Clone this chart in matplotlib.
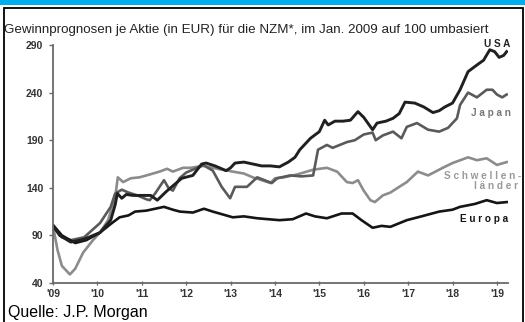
import matplotlib
matplotlib.use("Agg")
import matplotlib.pyplot as plt
from matplotlib.patches import Rectangle

plt.rcParams['font.family'] = ['Liberation Sans', 'DejaVu Sans']

# Earnings forecasts per share (EUR), rebased to 100 in Jan 2009
usa_t = [2009.0, 2009.15, 2009.4, 2009.7, 2010.06, 2010.3, 2010.4, 2010.45, 2010.55, 2010.65,
         2010.8, 2011.0, 2011.2, 2011.35, 2011.55, 2011.7, 2011.8, 2011.9, 2012.15, 2012.35,
         2012.45, 2012.65, 2012.9, 2013.0, 2013.1, 2013.3, 2013.5, 2013.7, 2013.9, 2014.1,
         2014.3, 2014.45, 2014.56, 2014.8, 2015.0, 2015.12, 2015.2, 2015.35, 2015.53, 2015.7,
         2015.87, 2016.0, 2016.2, 2016.3, 2016.5, 2016.66, 2016.8, 2016.93, 2017.15, 2017.35,
         2017.56, 2017.7, 2017.83, 2018.0, 2018.17, 2018.35, 2018.55, 2018.7, 2018.84, 2018.95,
         2019.05, 2019.15, 2019.22]
usa_v = [100, 90, 83, 86, 93, 106, 122, 134, 129, 133,
         132, 132, 132, 127, 136, 142, 146, 150, 153, 165,
         166, 163, 158, 161, 166, 167, 165, 163, 163, 162,
         167, 172, 180, 192, 199, 211, 206, 210, 210, 211,
         220, 214, 201, 208, 210, 213, 218, 230, 229, 225,
         219, 221, 225, 229, 243, 262, 269, 274, 285, 283,
         277, 279, 283]

japan_t = [2009.0, 2009.2, 2009.4, 2009.7, 2010.06, 2010.3, 2010.4, 2010.55, 2010.7, 2010.9,
           2011.1, 2011.18, 2011.3, 2011.5, 2011.6, 2011.7, 2011.85, 2012.0, 2012.2, 2012.38,
           2012.6, 2012.8, 2012.99, 2013.1, 2013.37, 2013.6, 2013.93, 2014.05, 2014.34, 2014.6,
           2014.86, 2014.97, 2015.17, 2015.3, 2015.62, 2015.8, 2016.0, 2016.2, 2016.27, 2016.43,
           2016.66, 2016.85, 2016.97, 2017.2, 2017.45, 2017.7, 2017.9, 2018.1, 2018.17, 2018.35,
           2018.55, 2018.77, 2018.9, 2019.0, 2019.12, 2019.22]
japan_v = [100, 88, 85, 88, 103, 120, 134, 138, 135, 132,
           128, 127, 134, 148, 140, 137, 150, 156, 160, 164,
           158, 141, 129, 141, 141, 151, 145, 150, 153, 152,
           153, 180, 185, 182, 188, 190, 196, 198, 190, 195,
           199, 192, 204, 208, 201, 199, 203, 213, 227, 240,
           235, 243, 243, 238, 235, 238]

em_t = [2009.0, 2009.1, 2009.2, 2009.38, 2009.5, 2009.68, 2009.9, 2010.06, 2010.24, 2010.4,
        2010.46, 2010.58, 2010.75, 2010.95, 2011.18, 2011.4, 2011.57, 2011.7, 2011.93, 2012.1,
        2012.24, 2012.4, 2012.7, 2013.05, 2013.3, 2013.5, 2013.9, 2014.0, 2014.2, 2014.5,
        2014.86, 2015.17, 2015.4, 2015.62, 2015.75, 2015.87, 2016.0, 2016.15, 2016.25, 2016.43,
        2016.6, 2016.8, 2016.97, 2017.22, 2017.45, 2017.78, 2018.0, 2018.35, 2018.55, 2018.77,
        2019.0, 2019.22]
em_v = [100, 75, 58, 49, 55, 72, 85, 93, 106, 130,
        151, 146, 150, 151, 154, 157, 160, 157, 161, 161,
        162, 163, 160, 157, 155, 151, 145, 150, 151, 154,
        159, 161, 157, 146, 145, 148, 137, 127, 125, 132,
        135, 141, 146, 157, 153, 161, 166, 172, 169, 171,
        164, 167]

eu_t = [2009.0, 2009.2, 2009.5, 2009.75, 2010.06, 2010.3, 2010.5, 2010.7, 2010.85, 2011.1,
        2011.3, 2011.5, 2011.7, 2011.86, 2012.15, 2012.4, 2012.6, 2013.05, 2013.3, 2013.6,
        2014.1, 2014.4, 2014.7, 2014.9, 2015.17, 2015.5, 2015.75, 2015.95, 2016.2, 2016.4,
        2016.6, 2016.97, 2017.3, 2017.7, 2018.0, 2018.17, 2018.5, 2018.77, 2019.0, 2019.22]
eu_v = [101, 90, 82, 85, 93, 102, 109, 111, 115, 116,
        118, 120, 117, 115, 114, 118, 115, 109, 110, 108,
        106, 107, 113, 110, 108, 113, 113, 106, 98, 100,
        99, 106, 110, 115, 117, 120, 123, 127, 124, 125]

y_ticks = [40, 90, 140, 190, 240, 290]
x_ticks = list(range(2009, 2020))
x_labels = ["'%02d" % (y % 100) for y in x_ticks]

fig = plt.figure(figsize=(5.25, 3.22), dpi=100)

# Blue header strip and black frame
fig.add_artist(Rectangle((0, 1 - 5 / 322), 1, 5 / 322, transform=fig.transFigure,
                         facecolor='#00aeef', edgecolor='none'))
fig.add_artist(Rectangle((3.5 / 525, -0.05), 519 / 525, 1.05 - 7.5 / 322,
                         transform=fig.transFigure, facecolor='none',
                         edgecolor='black', linewidth=1.3))

ax = fig.add_axes([53 / 525, 1 - 283 / 322, 455 / 525, 238 / 322])
ax.plot(em_t, em_v, color='#8c8c8c', lw=1.9, solid_joinstyle='round')
ax.plot(japan_t, japan_v, color='#5a5a5a', lw=1.9, solid_joinstyle='round')
ax.plot(eu_t, eu_v, color='#151515', lw=1.9, solid_joinstyle='round')
ax.plot(usa_t, usa_v, color='#202020', lw=2.1, solid_joinstyle='round')

ax.set_xlim(2009, 2019.25)
ax.set_ylim(40, 290)
ax.set_yticks(y_ticks)
ax.set_xticks(x_ticks)
ax.set_xticklabels(x_labels)
for s in ['top', 'right']:
    ax.spines[s].set_visible(False)
for s in ['left', 'bottom']:
    ax.spines[s].set_color('#6a6a6a')
    ax.spines[s].set_linewidth(1.3)
ax.tick_params(axis='y', direction='out', length=3, width=1, color='#6a6a6a',
               labelsize=7.5, labelcolor='#333333', pad=4)
ax.tick_params(axis='x', direction='inout', length=3, width=1, color='#6a6a6a',
               labelsize=7.5, labelcolor='#333333', pad=3)
for lab in ax.get_xticklabels() + ax.get_yticklabels():
    lab.set_fontweight('bold')

fig.text(4 / 525, 1 - 30 / 322,
         "Gewinnprognosen je Aktie (in EUR) für die NZM*, im Jan. 2009 auf 100 umbasiert",
         fontsize=9.6, color='#222222', va='center', ha='left')

lab_kw = dict(fontsize=7.2, fontweight='bold', ha='right', va='center')
fig.text(510 / 525, 1 - 44 / 322, "U S A", color='#222222', **lab_kw)
fig.text(511 / 525, 1 - 113 / 322, "J a p a n", color='#777777', **lab_kw)
fig.text(521 / 525, 1 - 176 / 322, "S c h w e l l e n -", color='#999999', **lab_kw)
fig.text(518 / 525, 1 - 186 / 322, "l ä n d e r", color='#999999', **lab_kw)
fig.text(508 / 525, 1 - 219 / 322, "E u r o p a", color='#151515', **lab_kw)

fig.text(8 / 525, 1 - 312 / 322, "Quelle: J.P. Morgan", fontsize=11.5,
         color='black', va='center', ha='left')

fig.savefig("out.png", dpi=100)
